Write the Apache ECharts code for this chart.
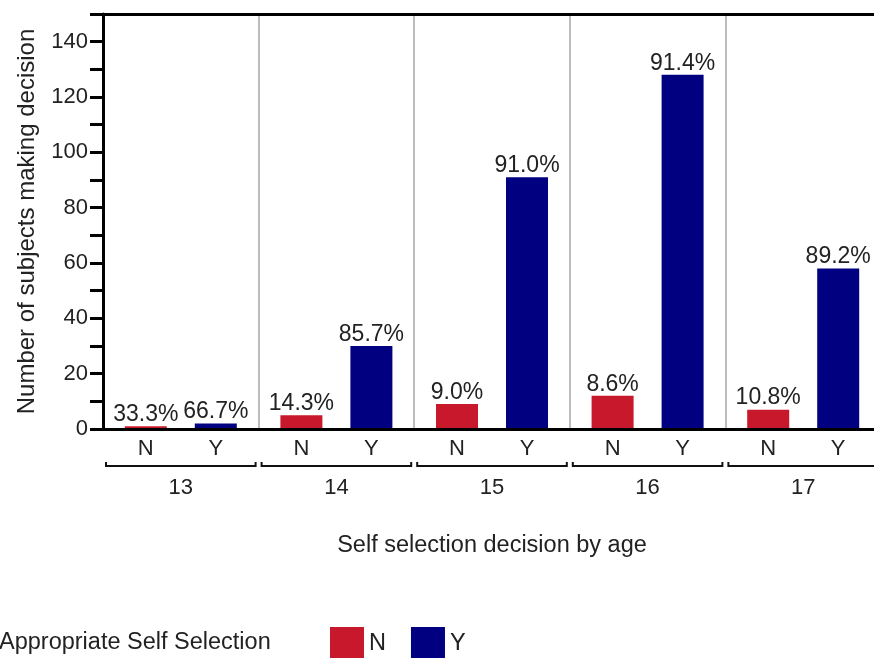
<!DOCTYPE html>
<html>
<head>
<meta charset="utf-8">
<script src="https://cdn.jsdelivr.net/npm/echarts@6/dist/echarts.min.js"></script>
<style>
  html, body { margin: 0; padding: 0; background: #fff; }
  #chart { width: 874px; height: 658px; }
</style>
</head>
<body>
<div id="chart"></div>
<script>
// ---- data ----
const ageGroups = ['13', '14', '15', '16', '17'];
const decisions = ['N', 'Y'];
const nValues = [1, 5, 9, 12, 7];
const yValues = [2, 30, 91, 128, 58];
const yTickMax = 150;

// ---- style constants ----
const FONT = '"Liberation Sans", Arial, Helvetica, sans-serif';
const FS = 22;
const TEXT = '#222';
const RED = '#C8182C';
const NAVY = '#000080';
const BAR_W = 42;
const BAR_GAP_PX = 28;

function pct(a, b) { return (a / (a + b) * 100).toFixed(1) + '%'; }

const chart = echarts.init(document.getElementById('chart'));
const labelStyle = {
  show: true, position: 'top', distance: 0,
  fontFamily: FONT, fontSize: 23, color: TEXT
};

const option = {
  animation: false,
  backgroundColor: '#fff',
  grid: { left: 103, width: 778, top: 14, bottom: 229, containLabel: false, outerBoundsMode: 'none' },
  legend: {
    data: decisions,
    left: 330, top: 627, padding: 0,
    itemWidth: 34, itemHeight: 34, itemGap: 25,
    icon: 'rect',
    textStyle: { fontFamily: FONT, fontSize: 23.5, color: TEXT }
  },
  graphic: [{
    type: 'text', left: -1, top: 631,
    style: { text: 'Appropriate Self Selection', font: '23.5px ' + FONT, fill: TEXT }
  }],
  xAxis: [{
    type: 'category',
    data: ageGroups,
    position: 'bottom',
    z: 5,
    axisLine: { show: true, lineStyle: { color: '#000', width: 3 } },
    axisTick: { show: false },
    splitLine: { show: true, lineStyle: { color: '#BDBDBD', width: 2 } },
    axisLabel: { margin: 48, fontFamily: FONT, fontSize: FS, color: TEXT },
    name: 'Self selection decision by age',
    nameLocation: 'middle',
    nameGap: 105,
    nameTextStyle: { fontFamily: FONT, fontSize: 23.5, color: TEXT }
  }, {
    type: 'category',
    data: ageGroups,
    position: 'top',
    z: 5,
    axisLine: { show: true, lineStyle: { color: '#000', width: 3 } },
    axisTick: { show: false },
    axisLabel: { show: false },
    splitLine: { show: false }
  }],
  yAxis: {
    type: 'value',
    min: 0, max: yTickMax, interval: 10,
    z: 5,
    axisLine: { show: true, lineStyle: { color: '#000', width: 3 } },
    axisTick: { show: true, length: 13, lineStyle: { color: '#000', width: 3 } },
    splitLine: { show: false },
    axisLabel: {
      margin: 15, fontFamily: FONT, fontSize: FS, color: TEXT,
      formatter: v => (v % 20 === 0 && v < yTickMax) ? String(v) : ''
    },
    name: 'Number of subjects making decision',
    nameLocation: 'middle',
    nameGap: 64,
    nameTextStyle: { fontFamily: FONT, fontSize: 24, color: TEXT }
  },
  series: [{
    name: 'N', type: 'bar', xAxisIndex: 0,
    data: nValues,
    barWidth: BAR_W, barGap: (BAR_GAP_PX / BAR_W * 100) + '%',
    itemStyle: { color: RED },
    label: Object.assign({}, labelStyle, {
      formatter: p => pct(nValues[p.dataIndex], yValues[p.dataIndex])
    })
  }, {
    name: 'Y', type: 'bar', xAxisIndex: 0,
    data: yValues,
    barWidth: BAR_W,
    itemStyle: { color: NAVY },
    label: Object.assign({}, labelStyle, {
      formatter: p => pct(yValues[p.dataIndex], nValues[p.dataIndex])
    })
  }, {
    name: 'subcats', type: 'custom', xAxisIndex: 0,
    clip: false, silent: true,
    data: ageGroups.map((g, i) => [i, 0]),
    renderItem: function (params, api) {
      const c = api.coord([api.value(0), 0]);
      const band = api.size([1, 0])[0];
      const off = (BAR_W + BAR_GAP_PX) / 2;
      const x0 = c[0] - band / 2 + 3, x1 = c[0] + band / 2 - 3;
      const yl = c[1] + 37;
      return {
        type: 'group',
        children: [
          { type: 'text', style: { text: decisions[0], x: c[0] - off, y: c[1] + 20,
              align: 'center', verticalAlign: 'middle', font: FS + 'px ' + FONT, fill: TEXT } },
          { type: 'text', style: { text: decisions[1], x: c[0] + off, y: c[1] + 20,
              align: 'center', verticalAlign: 'middle', font: FS + 'px ' + FONT, fill: TEXT } },
          { type: 'polyline', shape: { points: [[x0, yl - 4], [x0, yl], [x1, yl], [x1, yl - 4]] },
            style: { stroke: '#111', lineWidth: 2, fill: null } }
        ]
      };
    }
  }]
};
chart.setOption(option);
</script>
</body>
</html>
